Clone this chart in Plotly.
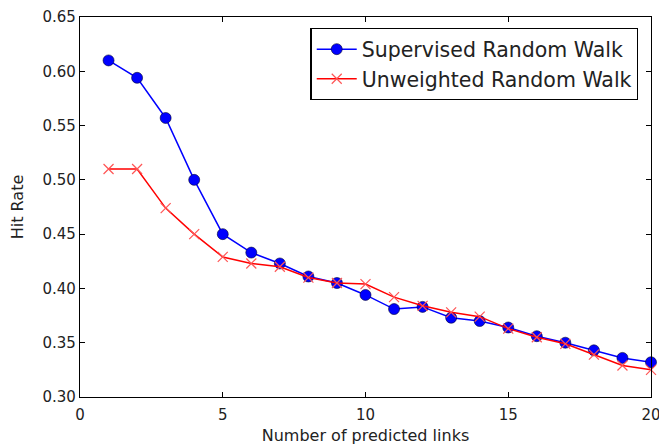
import plotly.graph_objects as go

x_vals = list(range(1, 21))
supervised = [0.610, 0.594, 0.557, 0.500, 0.450, 0.433, 0.423, 0.411, 0.405, 0.394,
              0.381, 0.383, 0.373, 0.370, 0.364, 0.356, 0.350, 0.343, 0.336, 0.332]
unweighted = [0.510, 0.510, 0.474, 0.450, 0.429, 0.423, 0.420, 0.410, 0.405, 0.404,
              0.392, 0.384, 0.378, 0.374, 0.363, 0.355, 0.349, 0.339, 0.329, 0.325]

x_ticks = [0, 5, 10, 15, 20]
y_ticks = [0.30, 0.35, 0.40, 0.45, 0.50, 0.55, 0.60, 0.65]

fig = go.Figure()
fig.add_trace(go.Scatter(
    x=x_vals, y=supervised, mode="lines+markers", name="Supervised Random Walk",
    line=dict(color="#0000ff", width=1.5),
    marker=dict(symbol="circle", size=11, color="#0000ff", line=dict(color="#000033", width=0.6)),
    cliponaxis=False,
))
fig.add_trace(go.Scatter(
    x=x_vals, y=unweighted, mode="lines+markers", name="Unweighted Random Walk",
    line=dict(color="#ff0000", width=1.5),
    marker=dict(symbol="x-thin", size=10, color="#ff5555", line=dict(color="#ff5555", width=1.2)),
    cliponaxis=False,
))

axis_common = dict(
    showline=True, linecolor="black", linewidth=1.3, mirror="ticks",
    ticks="inside", ticklen=5, tickwidth=1, tickcolor="black",
    showgrid=False, zeroline=False, automargin=False,
    tickfont=dict(family="DejaVu Sans", size=15, color="#222222"),
)

fig.update_xaxes(
    range=[0, 20], tickvals=x_ticks, ticktext=[str(v) for v in x_ticks],
    ticklabeloverflow="allow", ticklabelstandoff=4,
    title=dict(text="Number of predicted links", font=dict(family="DejaVu Sans", size=16, color="#222222"), standoff=6),
    **axis_common,
)
fig.update_yaxes(
    range=[0.30, 0.65], tickvals=y_ticks, ticktext=[f"{v:.2f}" for v in y_ticks],
    title=dict(text="Hit Rate", font=dict(family="DejaVu Sans", size=16, color="#222222"), standoff=14),
    **axis_common,
)

fig.update_layout(
    width=659, height=446,
    margin=dict(l=80, r=8, t=17, b=49),
    paper_bgcolor="white", plot_bgcolor="white",
    showlegend=True,
    legend=dict(
        x=0.978, y=0.971, xanchor="right", yanchor="top",
        bgcolor="white", bordercolor="black", borderwidth=1.3,
        font=dict(family="DejaVu Sans", size=20.5, color="#222222"),
        itemwidth=40, tracegroupgap=0,
    ),
)

fig.write_html("out.html")
